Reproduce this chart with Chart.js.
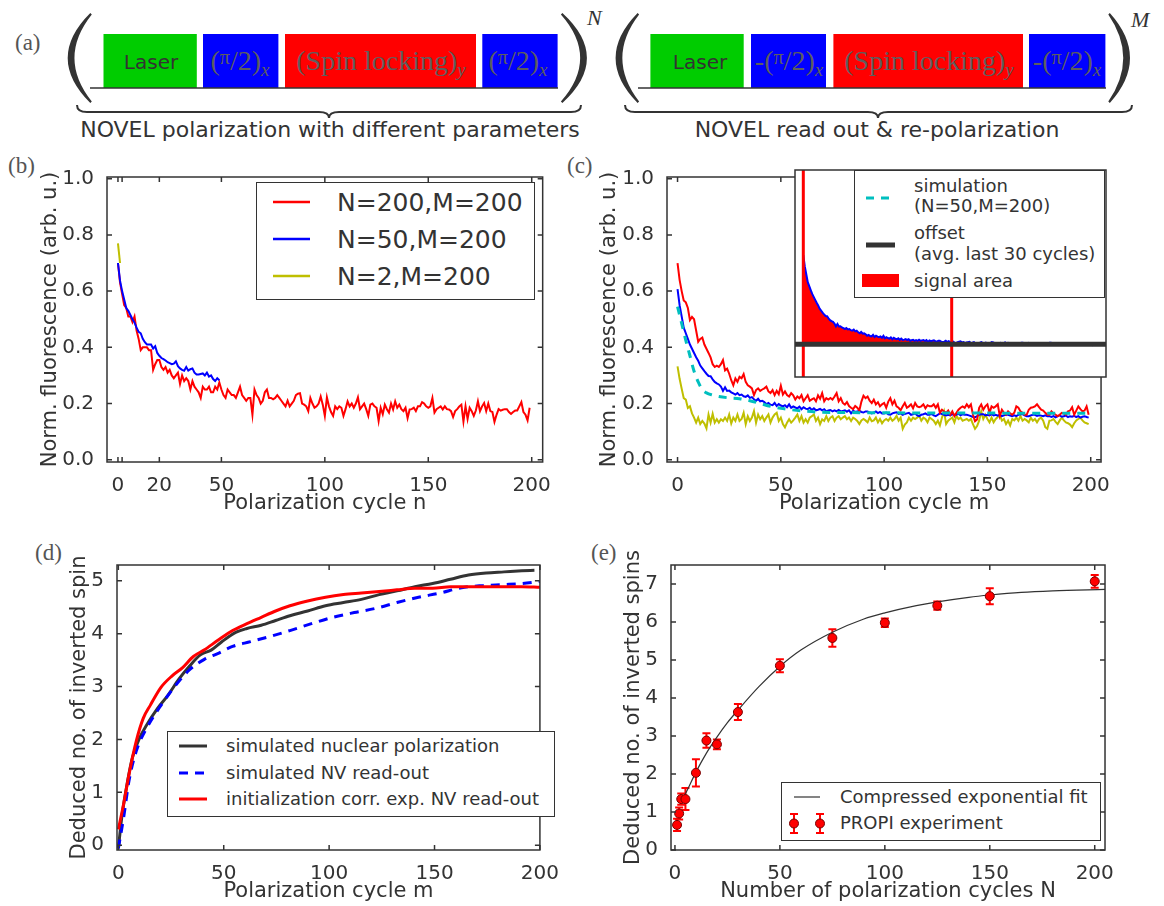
<!DOCTYPE html>
<html lang="en">
<head>
<meta charset="UTF-8">
<title>PROPI polarization cycles</title>
<script src="https://cdn.jsdelivr.net/npm/chart.js"></script>
<style>
  body { margin: 0; background: #fff; }
  #fig { position: relative; width: 1164px; height: 906px; overflow: hidden;
         font-family: 'DejaVu Sans', sans-serif; color: #333; background: #fff; }
  #fig canvas { position: absolute; }
  #seq { position: absolute; left: 0; top: 0; }
  .tag { position: absolute; font-family: 'Liberation Serif', serif; font-size: 23px; line-height: 1; color: #555; }
  .legend { position: absolute; background: #fff; outline: 1.5px solid #333; outline-offset: -1.5px; line-height: 1; }
  .legend svg { position: absolute; left: 0; top: 0; }
  .legend span { position: absolute; white-space: nowrap; }
</style>
</head>
<body>
<div id="fig">
  <!-- pulse sequence -->
  <svg id="seq" width="1164" height="145" font-family="'Liberation Serif', serif">
    <g fill="#333">
      <path d="M90.3,13 Q45.1,58 90.3,103 L91.8,101.5 Q57.1,58 91.8,14.5 Z"/>
      <path d="M562.4,13 Q611.4,58 562.4,103 L560.9,101.5 Q599.4,58 560.9,14.5 Z"/>
      <path d="M637.6,13 Q593.6,58 637.6,103 L639.1,101.5 Q605.6,58 639.1,14.5 Z"/>
      <path d="M1109.8,13 Q1150.2,58 1109.8,103 L1108.3,101.5 Q1138.2,58 1108.3,14.5 Z"/>
    </g>
    <rect x="103.5" y="34" width="93.3" height="54" fill="#00cc00"/>
    <rect x="203" y="34" width="75.4" height="54" fill="#0000ff"/>
    <rect x="285" y="34" width="191" height="54" fill="#ff0000"/>
    <rect x="482.3" y="34" width="75.3" height="54" fill="#0000ff"/>
    <rect x="650.4" y="34" width="93.3" height="54" fill="#00cc00"/>
    <rect x="751" y="34" width="75" height="54" fill="#0000ff"/>
    <rect x="833.4" y="34" width="189.6" height="54" fill="#ff0000"/>
    <rect x="1029" y="34" width="76.4" height="54" fill="#0000ff"/>
    <line x1="90" y1="88" x2="558" y2="88" stroke="#333" stroke-width="1.5"/>
    <line x1="638" y1="88" x2="1106" y2="88" stroke="#333" stroke-width="1.5"/>
    <g fill="none" stroke="#333" stroke-width="2">
      <path d="M77,105 Q77,112 87,112 L319,112 Q329,112 329,118 Q329,112 339,112 L571,112 Q581,112 581,105"/>
      <path d="M625,105 Q625,112 635,112 L868,112 Q878,112 878,118 Q878,112 888,112 L1122,112 Q1132,112 1132,105"/>
    </g>
    <g font-family="'DejaVu Sans', sans-serif" font-size="20" fill="#333" text-anchor="middle">
      <text x="151" y="69">Laser</text>
      <text x="700" y="69">Laser</text>
    </g>
    <g font-size="28" fill="#5e5e5e" text-anchor="middle">
      <text x="240" y="70">(<tspan font-size="20" dy="-6">π</tspan><tspan dy="6">/2)</tspan><tspan font-style="italic" font-size="19" dy="6">x</tspan></text>
      <text x="381" y="70">(Spin locking)<tspan font-style="italic" font-size="19" dy="6">y</tspan></text>
      <text x="518" y="70">(<tspan font-size="20" dy="-6">π</tspan><tspan dy="6">/2)</tspan><tspan font-style="italic" font-size="19" dy="6">x</tspan></text>
      <text x="789" y="70">-(<tspan font-size="20" dy="-6">π</tspan><tspan dy="6">/2)</tspan><tspan font-style="italic" font-size="19" dy="6">x</tspan></text>
      <text x="929" y="70">(Spin locking)<tspan font-style="italic" font-size="19" dy="6">y</tspan></text>
      <text x="1067" y="70">-(<tspan font-size="20" dy="-6">π</tspan><tspan dy="6">/2)</tspan><tspan font-style="italic" font-size="19" dy="6">x</tspan></text>
    </g>
    <g font-size="22" font-style="italic" fill="#333">
      <text x="587" y="25">N</text>
      <text x="1131" y="27">M</text>
    </g>
    <g font-family="'DejaVu Sans', sans-serif" font-size="22" fill="#333" text-anchor="middle">
      <text x="330" y="137">NOVEL polarization with different parameters</text>
      <text x="877" y="137">NOVEL read out &amp; re-polarization</text>
    </g>
  </svg>

  <div class="tag" style="left:15px;top:31px">(a)</div>
  <div class="tag" style="left:8px;top:154px">(b)</div>
  <div class="tag" style="left:567px;top:154px">(c)</div>
  <div class="tag" style="left:35px;top:541px">(d)</div>
  <div class="tag" style="left:591px;top:541px">(e)</div>

  <canvas id="chartB"></canvas>
  <canvas id="chartC"></canvas>
  <canvas id="chartInset"></canvas>
  <canvas id="chartD"></canvas>
  <canvas id="chartE"></canvas>

  <div class="legend" style="left:256px;top:182px;width:279px;height:118px;font-size:25px">
    <svg width="279" height="118">
      <line x1="17" y1="20" x2="54" y2="20" stroke="#ff0000" stroke-width="2.5"/>
      <line x1="17" y1="57" x2="54" y2="57" stroke="#0000ff" stroke-width="2.5"/>
      <line x1="17" y1="94" x2="54" y2="94" stroke="#bfbf00" stroke-width="2.5"/>
    </svg>
    <span style="left:81px;top:8px">N=200,M=200</span>
    <span style="left:81px;top:45px">N=50,M=200</span>
    <span style="left:81px;top:82px">N=2,M=200</span>
  </div>

  <div class="legend" style="left:854px;top:170px;width:251px;height:128px;font-size:18px">
    <svg width="251" height="128">
      <line x1="12" y1="28" x2="38" y2="28" stroke="#00bfbf" stroke-width="3" stroke-dasharray="8 7"/>
      <line x1="12" y1="75" x2="41" y2="75" stroke="#333" stroke-width="5"/>
      <rect x="8" y="104" width="37" height="13" fill="#ff0000"/>
    </svg>
    <span style="left:60px;top:7px">simulation</span>
    <span style="left:60px;top:27px">(N=50,M=200)</span>
    <span style="left:60px;top:54px">offset</span>
    <span style="left:60px;top:75px">(avg. last 30 cycles)</span>
    <span style="left:60px;top:102px">signal area</span>
  </div>

  <div class="legend" style="left:167px;top:731px;width:388px;height:86px;font-size:18px">
    <svg width="388" height="86">
      <line x1="12" y1="15" x2="40" y2="15" stroke="#333" stroke-width="3"/>
      <line x1="12" y1="42" x2="40" y2="42" stroke="#0000ff" stroke-width="3" stroke-dasharray="9 7"/>
      <line x1="12" y1="68" x2="40" y2="68" stroke="#ff0000" stroke-width="3"/>
    </svg>
    <span style="left:59px;top:6px">simulated nuclear polarization</span>
    <span style="left:59px;top:33px">simulated NV read-out</span>
    <span style="left:59px;top:59px">initialization corr. exp. NV read-out</span>
  </div>

  <div class="legend" style="left:781px;top:782px;width:320px;height:59px;font-size:18px">
    <svg width="320" height="59">
      <line x1="13" y1="15" x2="39" y2="15" stroke="#333" stroke-width="1.2"/>
      <g stroke="#ff0000" stroke-width="2">
        <path d="M13,32 V51 M9,32 H17 M9,51 H17"/>
        <path d="M39,32 V51 M35,32 H43 M35,51 H43"/>
      </g>
      <circle cx="13" cy="41.5" r="4.5" fill="#ff0000" stroke="#700" stroke-width="1"/>
      <circle cx="39" cy="41.5" r="4.5" fill="#ff0000" stroke="#700" stroke-width="1"/>
    </svg>
    <span style="left:59px;top:6px">Compressed exponential fit</span>
    <span style="left:59px;top:32px">PROPI experiment</span>
  </div>
</div>

<script>
  // ---------- (b) fluorescence vs polarization cycle n, M = 200 ----------
  const cycles = Array.from({ length: 200 }, (_, i) => i);

  const bRed = [
    0.70, 0.63, 0.59, 0.55, 0.54, 0.51, 0.51, 0.49, 0.51, 0.46,
    0.43, 0.39, 0.40, 0.40, 0.40, 0.39, 0.39, 0.32, 0.34, 0.355,
    0.355, 0.33, 0.32, 0.33, 0.31, 0.32, 0.30, 0.29, 0.30, 0.31,
    0.27, 0.30, 0.28, 0.29, 0.28, 0.25, 0.28, 0.26, 0.25, 0.24,
    0.22, 0.26, 0.25, 0.25, 0.26, 0.24, 0.24, 0.26, 0.25, 0.275,
    0.25, 0.23, 0.22, 0.25, 0.24, 0.23, 0.23, 0.22, 0.24, 0.26,
    0.23, 0.22, 0.21, 0.22, 0.22, 0.16, 0.25, 0.23, 0.22, 0.20,
    0.21, 0.24, 0.25, 0.22, 0.22, 0.215, 0.22, 0.23, 0.22, 0.21,
    0.20, 0.19, 0.21, 0.19, 0.20, 0.21, 0.23, 0.235, 0.237, 0.20,
    0.196, 0.19, 0.173, 0.22, 0.20, 0.185, 0.19, 0.20, 0.225, 0.196,
    0.156, 0.222, 0.19, 0.17, 0.156, 0.19, 0.18, 0.19, 0.185, 0.156,
    0.18, 0.208, 0.19, 0.20, 0.185, 0.20, 0.222, 0.18, 0.19, 0.20,
    0.18, 0.156, 0.196, 0.20, 0.19, 0.185, 0.138, 0.185, 0.162, 0.196,
    0.18, 0.168, 0.20, 0.179, 0.208, 0.185, 0.196, 0.18, 0.173, 0.185,
    0.148, 0.179, 0.18, 0.185, 0.173, 0.19, 0.19, 0.205, 0.20, 0.19,
    0.185, 0.19, 0.22, 0.168, 0.18, 0.185, 0.19, 0.179, 0.19, 0.18,
    0.179, 0.173, 0.152, 0.173, 0.18, 0.19, 0.196, 0.136, 0.19, 0.145,
    0.185, 0.173, 0.156, 0.175, 0.208, 0.173, 0.19, 0.202, 0.173, 0.20,
    0.173, 0.17, 0.135, 0.16, 0.18, 0.175, 0.178, 0.18, 0.18, 0.17,
    0.163, 0.17, 0.175, 0.175, 0.19, 0.205, 0.17, 0.16, 0.14, 0.185
  ];
  const bBlue = [
    0.70, 0.637, 0.60, 0.57, 0.54, 0.53, 0.515, 0.50, 0.488, 0.47,
    0.455, 0.45, 0.43, 0.418, 0.41, 0.41, 0.41, 0.396, 0.404, 0.38,
    0.37, 0.362, 0.358, 0.353, 0.347, 0.344, 0.34, 0.342, 0.35, 0.333,
    0.325, 0.32, 0.317, 0.33, 0.317, 0.322, 0.325, 0.31, 0.303, 0.303,
    0.305, 0.307, 0.30, 0.31, 0.296, 0.30, 0.287, 0.28, 0.29, 0.283
  ];
  const bYellow = [0.77, 0.70];
  const bTicksX = [0, 2, 20, 50, 100, 150, 200];
  const fluoTicks = [0, 0.2, 0.4, 0.6, 0.8, 1.0];

  // ---------- (c) fluorescence vs read-out cycle m ----------
  const cRed = [
    0.70, 0.64, 0.60, 0.567, 0.56, 0.54, 0.497, 0.508, 0.50, 0.46,
    0.42, 0.43, 0.435, 0.41, 0.395, 0.38, 0.364, 0.34, 0.33, 0.335,
    0.33, 0.34, 0.355, 0.318, 0.324, 0.306, 0.283, 0.265, 0.289, 0.277,
    0.295, 0.29, 0.305, 0.277, 0.265, 0.26, 0.254, 0.23, 0.248, 0.254,
    0.245, 0.25, 0.254, 0.26, 0.243, 0.237, 0.248, 0.23, 0.245, 0.233,
    0.263, 0.232, 0.243, 0.23, 0.225, 0.237, 0.229, 0.214, 0.225, 0.219,
    0.23, 0.208, 0.219, 0.23, 0.21, 0.215, 0.219, 0.208, 0.229, 0.217,
    0.237, 0.208, 0.219, 0.214, 0.22, 0.214, 0.225, 0.237, 0.208, 0.219,
    0.202, 0.196, 0.205, 0.191, 0.185, 0.18, 0.191, 0.185, 0.175, 0.207,
    0.228, 0.219, 0.225, 0.21, 0.202, 0.214, 0.197, 0.205, 0.19, 0.197,
    0.202, 0.185, 0.207, 0.219, 0.197, 0.21, 0.19, 0.185, 0.176, 0.19,
    0.202, 0.185, 0.19, 0.197, 0.183, 0.202, 0.19, 0.187, 0.19, 0.197,
    0.183, 0.194, 0.19, 0.19, 0.197, 0.185, 0.197, 0.167, 0.178, 0.172,
    0.167, 0.175, 0.16, 0.172, 0.155, 0.167, 0.178, 0.185, 0.19, 0.185,
    0.197, 0.187, 0.197, 0.16, 0.137, 0.143, 0.185, 0.197, 0.178, 0.19,
    0.197, 0.167, 0.19, 0.185, 0.19, 0.197, 0.155, 0.178, 0.167, 0.16,
    0.172, 0.165, 0.16, 0.167, 0.19, 0.185, 0.172, 0.167, 0.16, 0.16,
    0.178, 0.185, 0.187, 0.19, 0.197, 0.187, 0.178, 0.175, 0.167, 0.16,
    0.16, 0.172, 0.165, 0.16, 0.155, 0.16, 0.167, 0.165, 0.16, 0.172,
    0.175, 0.187, 0.16, 0.175, 0.19, 0.18, 0.172, 0.175, 0.19, 0.16
  ];
  const cBlue = [
    0.607, 0.55, 0.51, 0.47, 0.45, 0.43, 0.41, 0.395, 0.38, 0.365,
    0.352, 0.335, 0.325, 0.315, 0.306, 0.298, 0.297, 0.286, 0.277, 0.272,
    0.268, 0.26, 0.245, 0.258, 0.245, 0.246, 0.24, 0.236, 0.232, 0.237,
    0.23, 0.232, 0.226, 0.224, 0.229, 0.22, 0.223, 0.215, 0.21, 0.217,
    0.208, 0.21, 0.205, 0.198, 0.202, 0.196, 0.194, 0.202, 0.191, 0.198,
    0.193, 0.19, 0.194, 0.187, 0.197, 0.185, 0.19, 0.186, 0.183, 0.189,
    0.18, 0.187, 0.182, 0.18, 0.185, 0.177, 0.183, 0.176, 0.178, 0.181,
    0.176, 0.18, 0.172, 0.175, 0.177, 0.172, 0.176, 0.172, 0.177, 0.172,
    0.174, 0.176, 0.171, 0.176, 0.165, 0.174, 0.17, 0.172, 0.174, 0.17,
    0.168, 0.172, 0.172, 0.168, 0.165, 0.168, 0.172, 0.166, 0.17, 0.165,
    0.165, 0.168, 0.162, 0.16, 0.165, 0.167, 0.169, 0.163, 0.165, 0.16,
    0.163, 0.165, 0.167, 0.16, 0.162, 0.165, 0.158, 0.155, 0.16, 0.162,
    0.165, 0.16, 0.16, 0.163, 0.158, 0.155, 0.16, 0.165, 0.163, 0.16,
    0.158, 0.16, 0.158, 0.162, 0.16, 0.16, 0.164, 0.158, 0.162, 0.16,
    0.16, 0.158, 0.155, 0.152, 0.151, 0.155, 0.16, 0.162, 0.162, 0.158,
    0.16, 0.158, 0.162, 0.158, 0.16, 0.157, 0.16, 0.155, 0.158, 0.16,
    0.16, 0.157, 0.155, 0.158, 0.155, 0.16, 0.162, 0.162, 0.158, 0.155,
    0.155, 0.158, 0.16, 0.16, 0.156, 0.158, 0.157, 0.155, 0.158, 0.155,
    0.155, 0.152, 0.155, 0.151, 0.155, 0.158, 0.153, 0.155, 0.157, 0.152,
    0.155, 0.153, 0.156, 0.152, 0.155, 0.15, 0.153, 0.155, 0.152, 0.15
  ];
  const cYellow = [
    0.332, 0.288, 0.253, 0.219, 0.214, 0.184, 0.19, 0.165, 0.15, 0.132,
    0.15, 0.127, 0.138, 0.129, 0.112, 0.161, 0.132, 0.163, 0.132, 0.144,
    0.132, 0.144, 0.138, 0.15, 0.138, 0.161, 0.129, 0.15, 0.138, 0.161,
    0.138, 0.145, 0.167, 0.127, 0.155, 0.138, 0.15, 0.173, 0.132, 0.161,
    0.144, 0.155, 0.138, 0.15, 0.161, 0.132, 0.15, 0.161, 0.167, 0.138,
    0.15, 0.127, 0.115, 0.132, 0.144, 0.132, 0.14, 0.15, 0.161, 0.138,
    0.155, 0.132, 0.144, 0.132, 0.15, 0.155, 0.161, 0.138, 0.15, 0.127,
    0.144, 0.138, 0.155, 0.138, 0.15, 0.155, 0.138, 0.15, 0.155, 0.144,
    0.15, 0.155, 0.144, 0.15, 0.138, 0.15, 0.145, 0.138, 0.127, 0.14,
    0.145, 0.14, 0.133, 0.15, 0.137, 0.14, 0.15, 0.133, 0.145, 0.13,
    0.14, 0.145, 0.139, 0.15, 0.139, 0.145, 0.156, 0.139, 0.15, 0.11,
    0.125, 0.133, 0.15, 0.139, 0.15, 0.145, 0.15, 0.156, 0.139, 0.15,
    0.145, 0.133, 0.15, 0.145, 0.139, 0.127, 0.139, 0.122, 0.15, 0.172,
    0.127, 0.139, 0.145, 0.15, 0.133, 0.156, 0.145, 0.15, 0.139, 0.142,
    0.145, 0.139, 0.145, 0.127, 0.11, 0.12, 0.139, 0.172, 0.145, 0.16,
    0.145, 0.133, 0.15, 0.133, 0.145, 0.152, 0.16, 0.139, 0.145, 0.127,
    0.139, 0.122, 0.145, 0.14, 0.15, 0.139, 0.156, 0.139, 0.145, 0.14,
    0.133, 0.15, 0.139, 0.145, 0.133, 0.145, 0.15, 0.139, 0.116, 0.11,
    0.139, 0.14, 0.145, 0.135, 0.127, 0.14, 0.15, 0.14, 0.133, 0.13,
    0.125, 0.116, 0.13, 0.14, 0.145, 0.15, 0.14, 0.133, 0.13, 0.127
  ];
  const cSimM = [0, 2, 4, 6, 8, 10, 12, 14, 17, 20, 25, 30, 35, 40, 45, 50, 55, 60, 70, 80, 100, 150, 200];
  const cSimV = [0.545, 0.485, 0.425, 0.37, 0.315, 0.277, 0.25, 0.238, 0.23, 0.225, 0.22, 0.217, 0.21,
                 0.2, 0.19, 0.183, 0.178, 0.174, 0.169, 0.168, 0.167, 0.166, 0.165];
  const cTicksX = [0, 50, 100, 150, 200];
  const signalRange = [0, 100];   // integration window of the inset

  // ---------- (d) deduced number of inverted spins vs m ----------
  const dNucM = [0, 1.7, 4.2, 6.7, 10.1, 13.5, 18.6, 23.6, 28.7, 33.8, 38.9, 44, 49.1, 55.9, 61, 67.8,
                 74.6, 81.4, 89.8, 98.3, 106.8, 115.3, 123.7, 132.2, 140.7, 149.1, 157.6, 166.1, 174.5, 183, 191.4, 197.4];
  const dNucV = [-0.06, 0.55, 1.17, 1.66, 2.03, 2.28, 2.59, 2.84, 3.14, 3.39, 3.6, 3.69, 3.85, 4.03, 4.1, 4.16,
                 4.25, 4.34, 4.43, 4.53, 4.59, 4.65, 4.74, 4.81, 4.89, 4.95, 5.03, 5.11, 5.15, 5.17, 5.19, 5.2];
  const dSimM = [0, 2.6, 5.1, 8.5, 13.5, 20.3, 27.1, 33.8, 40.6, 47.4, 54.2, 62.7, 71.2, 81.4, 91.6, 101.7,
                 111.9, 122.1, 132.2, 142.4, 152.6, 162.8, 172.9, 183.1, 191.6, 200];
  const dSimV = [-0.06, 0.55, 1.23, 1.78, 2.22, 2.65, 3.02, 3.32, 3.51, 3.63, 3.76, 3.85, 3.94, 4.06, 4.19, 4.31,
                 4.4, 4.48, 4.59, 4.69, 4.77, 4.87, 4.91, 4.93, 4.95, 4.99];
  const dExpM = [0, 2.6, 5.1, 8.5, 11.8, 15.2, 20.3, 25.4, 30.5, 35.6, 40.6, 47.4, 54.2, 61, 67.8, 74.6,
                 81.4, 89.8, 98.3, 106.8, 115.3, 123.7, 132.2, 140.7, 149.1, 157.6, 166.1, 174.5, 183, 191.4, 200];
  const dExpV = [0.3, 0.8, 1.35, 1.97, 2.4, 2.65, 2.99, 3.2, 3.36, 3.57, 3.69, 3.88, 4.06, 4.19, 4.31, 4.43,
                 4.53, 4.62, 4.69, 4.74, 4.77, 4.8, 4.83, 4.86, 4.86, 4.89, 4.89, 4.89, 4.89, 4.89, 4.88];
  const dTicksY = [0, 1, 2, 3, 4, 5];

  // ---------- (e) inverted spins vs number of polarization cycles N ----------
  const eN   = [1, 2, 3, 5, 10, 15, 20, 30, 50, 75, 100, 125, 150, 200];
  const eVal = [0.66, 0.96, 1.34, 1.34, 2.03, 2.88, 2.78, 3.63, 4.85, 5.58, 5.98, 6.43, 6.68, 7.07];
  const eErr = [0.16, 0.16, 0.15, 0.29, 0.36, 0.19, 0.13, 0.21, 0.17, 0.23, 0.11, 0.11, 0.21, 0.17];
  const eFitN = [3, 5, 10, 15, 20, 25, 30, 40, 50, 60, 75, 90, 100, 115, 125, 140, 150, 165, 180, 205];
  const eFitV = [1.3, 1.48, 2.05, 2.55, 2.97, 3.35, 3.68, 4.3, 4.83, 5.26, 5.73, 6.08, 6.24, 6.43, 6.53,
                 6.65, 6.71, 6.78, 6.82, 6.86];
  const eTicksY = [0, 1, 2, 3, 4, 5, 6, 7];

  Chart.defaults.font.family = "'DejaVu Sans', sans-serif";
  Chart.defaults.color = '#333';
  Chart.defaults.animation = false;
  Chart.defaults.responsive = false;
  Chart.defaults.plugins.legend.display = false;
  Chart.defaults.plugins.tooltip.enabled = false;

  // box around the plot with inward ticks on all four sides
  Chart.register({
    id: 'frame',
    afterDatasetsDraw(chart, args, opts) {
      const { ctx, chartArea: a } = chart;
      ctx.save();
      ctx.strokeStyle = '#333';
      ctx.lineWidth = 1.5;
      if (!opts.bare) {
        const len = 5, xs = chart.scales.x, ys = chart.scales.y;
        ctx.beginPath();
        xs.ticks.forEach(t => {
          const p = xs.getPixelForValue(t.value);
          ctx.moveTo(p, a.top); ctx.lineTo(p, a.top + len);
          ctx.moveTo(p, a.bottom); ctx.lineTo(p, a.bottom - len);
        });
        ys.ticks.forEach(t => {
          const p = ys.getPixelForValue(t.value);
          ctx.moveTo(a.left, p); ctx.lineTo(a.left + len, p);
          ctx.moveTo(a.right, p); ctx.lineTo(a.right - len, p);
        });
        ctx.stroke();
      }
      ctx.strokeRect(a.left, a.top, a.right - a.left, a.bottom - a.top);
      ctx.restore();
    }
  });

  function line(xs, ys, color, width, extra) {
    return Object.assign({
      data: ys.map((y, i) => ({ x: xs[i], y })),
      borderColor: color, borderWidth: width,
      pointRadius: 0, fill: false, tension: 0
    }, extra || {});
  }

  function axis(o) {
    return {
      type: 'linear', min: o.min, max: o.max,
      grid: { display: false },
      border: { display: false },
      ticks: {
        autoSkip: false, maxRotation: 0, minRotation: 0,
        padding: o.pad, font: { size: 20 }, color: '#333',
        callback: o.fmt || (v => v)
      },
      title: { display: true, text: o.title, font: { size: 21 }, color: '#333', padding: 0 },
      afterBuildTicks: s => { s.ticks = o.ticks.map(v => ({ value: v })); },
      afterFit: s => { if (s.isHorizontal()) s.height = o.size; else s.width = o.size; }
    };
  }

  // geo: canvas box [left, top, right, bottom] and plot frame [left, top, right, bottom], page pixels
  function panel(id, geo, datasets, xa, ya, plugins) {
    const cv = document.getElementById(id);
    const [cl, ct, cr, cb] = geo.canvas, [fl, ft, fr, fb] = geo.frame;
    cv.width = cr - cl; cv.height = cb - ct;
    cv.style.left = cl + 'px'; cv.style.top = ct + 'px';
    xa.size = cb - fb; ya.size = fl - cl;
    return new Chart(cv, {
      type: 'line',
      data: { datasets },
      options: {
        layout: { padding: { left: 0, top: ft - ct, right: cr - fr, bottom: 0 } },
        scales: { x: axis(xa), y: axis(ya) }
      },
      plugins: plugins || []
    });
  }

  const oneDecimal = v => v.toFixed(1);
  const fluoAxis = { min: -0.008, max: 1.006, ticks: fluoTicks, pad: 5, fmt: oneDecimal,
                     title: 'Norm. fluorescence (arb. u.)' };

  // (b)
  panel('chartB', { canvas: [38, 160, 555, 516], frame: [107, 170, 547, 462] }, [
    line(cycles, bRed, '#ff0000', 2, { order: 3 }),
    line(cycles, bBlue, '#0000ff', 2, { order: 2 }),
    line(cycles, bYellow, '#bfbf00', 2, { order: 1 })
  ],
  { min: -5.3, max: 205.3, ticks: bTicksX, pad: 4, fmt: v => (v === 2 ? '' : v), title: 'Polarization cycle n' },
  Object.assign({}, fluoAxis));

  // (c)
  panel('chartC', { canvas: [597, 160, 1114, 516], frame: [667, 170, 1106, 462] }, [
    line(cSimM, cSimV, '#00bfbf', 3, { order: 0, borderDash: [8, 7], cubicInterpolationMode: 'monotone' }),
    line(cycles, cRed, '#ff0000', 2, { order: 1 }),
    line(cycles, cBlue, '#0000ff', 2, { order: 2 }),
    line(cycles, cYellow, '#bfbf00', 2, { order: 3 })
  ],
  { min: -5.1, max: 205, ticks: cTicksX, pad: 4, title: 'Polarization cycle m' },
  Object.assign({}, fluoAxis));

  // inset of (c): signal area above the offset of the N=50 trace
  const last30 = cBlue.slice(-30);
  const offset = last30.reduce((s, v) => s + v, 0) / last30.length;
  const inWin = cycles.filter(m => m >= signalRange[0] && m <= signalRange[1]);
  const insetCv = document.getElementById('chartInset');
  insetCv.width = 321; insetCv.height = 217;
  insetCv.style.left = '790px'; insetCv.style.top = '165px';
  const insetY = { min: -0.012, max: 1.04 };
  new Chart(insetCv, {
    type: 'line',
    data: { datasets: [
      line([-10, 210], [offset, offset], '#333', 5, { order: 0 }),
      line([signalRange[0], signalRange[0]], [insetY.min - 1, insetY.max + 1], '#ff0000', 3, { order: 1 }),
      line([signalRange[1], signalRange[1]], [insetY.min - 1, insetY.max + 1], '#ff0000', 3, { order: 1 }),
      line(cycles, cBlue, '#0000ff', 2, { order: 2 }),
      line(inWin, inWin.map(m => cBlue[m]), 'rgba(0,0,0,0)', 0,
           { order: 3, fill: { value: offset }, backgroundColor: '#ff0000' })
    ] },
    options: {
      layout: { padding: 5 },
      scales: {
        x: { type: 'linear', display: false, min: -5.6, max: 204 },
        y: { type: 'linear', display: false, min: insetY.min, max: insetY.max }
      },
      plugins: { frame: { bare: true } }
    },
    plugins: [{
      id: 'paper',
      beforeDraw(chart) {
        const { ctx, chartArea: a } = chart;
        ctx.save(); ctx.fillStyle = '#fff';
        ctx.fillRect(a.left, a.top, a.right - a.left, a.bottom - a.top);
        ctx.restore();
      }
    }]
  });

  // (d)
  panel('chartD', { canvas: [67, 548, 563, 904], frame: [117, 558, 555, 850] }, [
    line(dExpM, dExpV, '#ff0000', 3, { order: 0, cubicInterpolationMode: 'monotone' }),
    line(dSimM, dSimV, '#0000ff', 3, { order: 1, borderDash: [9, 7], cubicInterpolationMode: 'monotone' }),
    line(dNucM, dNucV, '#333', 3, { order: 2, cubicInterpolationMode: 'monotone' })
  ],
  { min: -0.64, max: 200, ticks: cTicksX, pad: 4, title: 'Polarization cycle m' },
  { min: -0.09, max: 5.3, ticks: dTicksY, pad: 5, title: 'Deduced no. of inverted spin' });

  // (e) with error bars drawn under the markers
  const errorBars = {
    id: 'errorBars',
    beforeDatasetsDraw(chart) {
      const { ctx, scales: { x, y } } = chart;
      ctx.save();
      ctx.strokeStyle = '#ff0000';
      ctx.lineWidth = 2;
      eN.forEach((n, i) => {
        const px = x.getPixelForValue(n);
        const lo = y.getPixelForValue(eVal[i] - eErr[i]);
        const hi = y.getPixelForValue(eVal[i] + eErr[i]);
        ctx.beginPath();
        ctx.moveTo(px, lo); ctx.lineTo(px, hi);
        ctx.moveTo(px - 4, lo); ctx.lineTo(px + 4, lo);
        ctx.moveTo(px - 4, hi); ctx.lineTo(px + 4, hi);
        ctx.stroke();
      });
      ctx.restore();
    }
  };
  panel('chartE', { canvas: [621, 548, 1118, 904], frame: [671, 558, 1110, 850] }, [
    line(eFitN, eFitV, '#333', 1.2, { order: 1, cubicInterpolationMode: 'monotone' }),
    line(eN, eVal, '#ff0000', 0, { order: 0, showLine: false, pointRadius: 4.5,
         pointBackgroundColor: '#ff0000', pointBorderColor: '#700', pointBorderWidth: 1 })
  ],
  { min: -1.88, max: 204.9, ticks: cTicksX, pad: 4, title: 'Number of polarization cycles N' },
  { min: 0, max: 7.5, ticks: eTicksY, pad: 5, title: 'Deduced no. of inverted spins' },
  [errorBars]);
</script>
</body>
</html>
